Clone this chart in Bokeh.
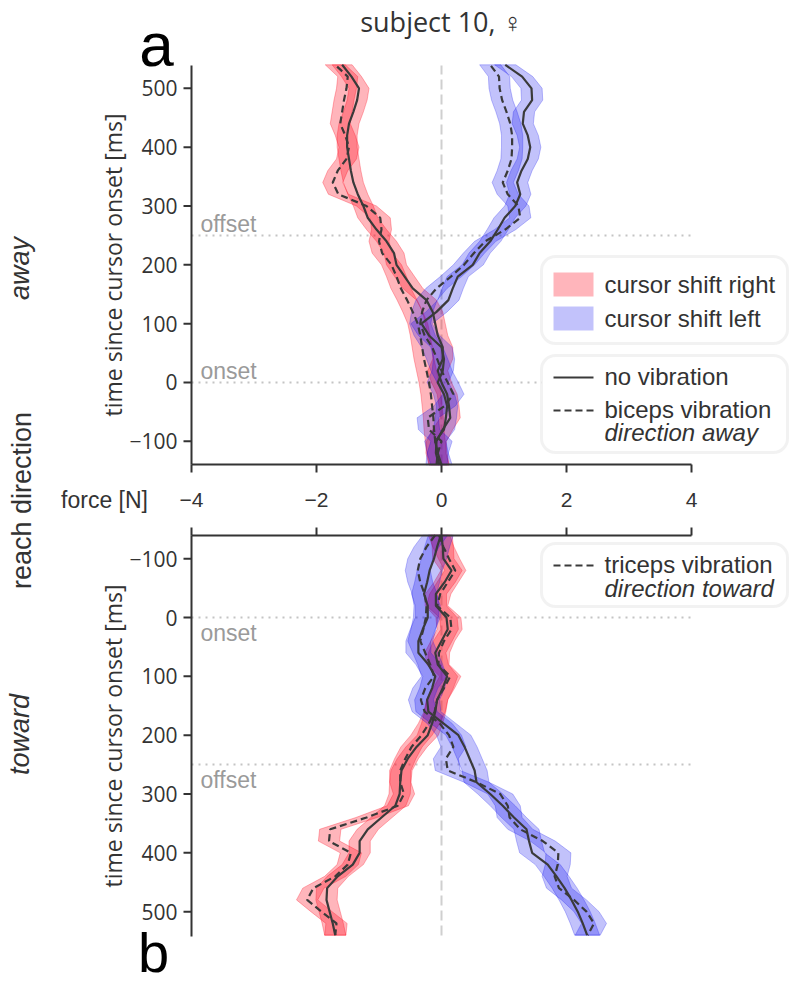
import numpy as np
from bokeh.core.properties import value
from bokeh.embed import file_html
from bokeh.models import Arrow, BoxAnnotation, Label, Range1d
from bokeh.plotting import figure
from bokeh.resources import INLINE

# ---------------------------------------------------------------- data
# time since cursor onset [ms], shared by every trace
time_ms = list(range(-140, 541, 20))

# mean force [N], reach direction "away" (biceps vibration)
away_right_novib = [-0.04, -0.09, -0.08, 0.02, 0.14, 0.12, 0.09, 0.00, -0.06, 0.02,
                    0.02, -0.06, -0.10, -0.14, -0.24, -0.46, -0.59, -0.72, -0.76, -0.88,
                    -1.04, -1.18, -1.25, -1.34, -1.41, -1.45, -1.48, -1.51, -1.51, -1.48,
                    -1.41, -1.35, -1.32, -1.44, -1.59]
away_right_vib = [-0.04, -0.07, -0.10, -0.12, -0.13, -0.15, -0.17, -0.20, -0.24, -0.28,
                  -0.31, -0.34, -0.38, -0.46, -0.55, -0.65, -0.72, -0.80, -0.95, -1.00,
                  -0.96, -0.98, -1.20, -1.65, -1.74, -1.66, -1.52, -1.48, -1.54, -1.62,
                  -1.59, -1.56, -1.52, -1.50, -1.70]
away_left_novib = [0.00, -0.06, -0.10, 0.04, 0.07, 0.09, 0.04, -0.06, 0.02, 0.04,
                   0.00, -0.20, -0.32, -0.08, 0.11, 0.18, 0.26, 0.50, 0.61, 0.78,
                   0.90, 1.01, 1.18, 1.26, 1.21, 1.28, 1.38, 1.42, 1.38, 1.30,
                   1.32, 1.45, 1.44, 1.29, 1.02]
away_left_vib = [-0.08, -0.06, 0.00, -0.20, -0.22, 0.05, 0.19, 0.10, 0.00, -0.07,
                 -0.15, -0.27, -0.34, -0.31, -0.24, -0.08, 0.15, 0.36, 0.52, 0.70,
                 1.02, 1.26, 1.23, 1.06, 0.98, 1.06, 1.12, 1.13, 1.13, 1.10,
                 1.04, 0.97, 0.93, 0.92, 0.78]

# mean force [N], reach direction "toward" (triceps vibration)
toward_right_novib = [0.00, 0.02, 0.03, 0.16, 0.05, -0.09, -0.09, 0.08, 0.10, 0.00,
                      -0.10, -0.06, 0.09, 0.02, -0.07, -0.10, -0.15, -0.22, -0.40, -0.54,
                      -0.64, -0.66, -0.67, -0.74, -0.96, -1.18, -1.31, -1.31, -1.42, -1.66,
                      -1.83, -1.84, -1.79, -1.74, -1.70]
toward_right_vib = [-0.04, 0.03, 0.12, 0.22, 0.10, -0.02, -0.07, 0.14, 0.16, 0.04,
                    -0.04, -0.05, 0.14, 0.04, -0.07, -0.11, -0.20, -0.32, -0.48, -0.58,
                    -0.66, -0.66, -0.60, -0.70, -1.20, -1.78, -1.80, -1.45, -1.50, -1.70,
                    -2.05, -2.15, -1.92, -1.68, -1.70]
toward_left_novib = [-0.01, -0.07, -0.12, -0.19, -0.23, -0.28, -0.22, -0.22, -0.30, -0.37,
                     -0.37, -0.21, -0.10, -0.15, -0.23, -0.21, 0.03, 0.27, 0.37, 0.45,
                     0.53, 0.56, 0.78, 0.98, 1.16, 1.36, 1.40, 1.45, 1.70, 1.84,
                     1.97, 2.08, 2.18, 2.26, 2.33]
toward_left_vib = [-0.10, -0.24, -0.34, -0.38, -0.34, -0.27, -0.24, -0.25, -0.29, -0.34,
                   -0.26, -0.18, -0.12, -0.26, -0.33, -0.27, -0.03, 0.12, 0.19, 0.07,
                   0.10, 0.56, 0.94, 1.06, 1.09, 1.26, 1.62, 1.87, 1.86, 1.81,
                   1.88, 2.12, 2.32, 2.44, 2.34]

# half width of the shaded error bands [N]
away_right_band = 0.16
away_left_band = 0.17
toward_right_band = 0.17
toward_left_band = 0.20

force_ticks = [-4, -2, 0, 2, 4]
time_ticks = [-100, 0, 100, 200, 300, 400, 500]
onset_ms = 0
offset_ms = 250

# ---------------------------------------------------------------- styling
RED = "#ff0a1e"
BLUE = "#0000ee"
RED_ALPHA = 0.30
BLUE_ALPHA = 0.24
TRACE = "#3a3a3a"
DASH = "7 4"
INK = "#333333"
EVENT = "#9a9a9a"
SANS = "Liberation Sans"
AXFONT = "Open Sans"
LEG_FONT = 24

# ---------------------------------------------------------------- geometry (px)
W, H = 789, 986
AXIS_X = 191                      # page x of the time axes (force = -4)
PX_PER_N = 62.5
PX_PER_MS = 0.5883
T_EDGE = -139.4                   # time at the panel edge next to the force axis
AWAY_EDGE_Y, AWAY_TOP_Y = 464, 65  # page y of the upper panel's force axis / far edge
TOWARD_EDGE_Y, TOWARD_BOT_Y = 535, 936
TICK_LEN = 8

AWAY_T_END = T_EDGE + (AWAY_EDGE_Y - AWAY_TOP_Y) / PX_PER_MS
TOWARD_T_END = T_EDGE + (TOWARD_BOT_Y - TOWARD_EDGE_Y) / PX_PER_MS
TICK_T = T_EDGE - TICK_LEN / PX_PER_MS   # tip of the force-axis ticks, either panel


def fx(px):
    """page x -> force units"""
    return -4 + (px - AXIS_X) / PX_PER_N


def minus(v):
    return f"\u2212{abs(v)}" if v < 0 else f"{v}"


# one canvas; the default y range is page pixels (down), each panel has its own time range
p = figure(width=W, height=H, x_range=Range1d(fx(0), fx(W)), y_range=Range1d(H, 0),
           min_border=0, toolbar_location=None, output_backend="svg",
           x_axis_type=None, y_axis_type=None, outline_line_color=None,
           title_location=None, background_fill_color="white", border_fill_color="white")
p.extra_y_ranges = {
    "away": Range1d(T_EDGE - (H - AWAY_EDGE_Y) / PX_PER_MS, T_EDGE + AWAY_EDGE_Y / PX_PER_MS),
    "toward": Range1d(T_EDGE + (H - TOWARD_EDGE_Y) / PX_PER_MS,
                      T_EDGE - TOWARD_EDGE_Y / PX_PER_MS),
}


def label(x, y, text, size, color=INK, font=SANS, style="normal", align="left",
          baseline="middle", angle=0.0, y_range_name="default"):
    p.add_layout(Label(x=x, y=y, text=text, text_font=font, text_font_size=f"{size}px",
                       text_font_style=style, text_color=color, text_align=align,
                       text_baseline=baseline, angle=angle, y_range_name=y_range_name))


def draw_panel(name, t_end, traces, event_shift):
    t = np.array(time_ms, dtype=float)
    # zero-force reference and the two cursor events
    p.segment(x0=[0], y0=[T_EDGE], x1=[0], y1=[t_end], line_color="#cfcfcf",
              line_width=2, line_dash="10 5", level="underlay", y_range_name=name)
    p.segment(x0=[-4, -4], y0=[onset_ms, offset_ms], x1=[4, 4], y1=[onset_ms, offset_ms],
              line_color="#c4c4c4", line_width=2, line_dash="2 5", level="underlay",
              y_range_name=name)
    label(fx(200), offset_ms + event_shift, "offset", 23, color=EVENT, y_range_name=name)
    label(fx(200), onset_ms + event_shift, "onset", 23, color=EVENT, y_range_name=name)

    # error bands, then the mean traces
    for mean, half, color, alpha, _ in traces:
        f = np.array(mean, dtype=float)
        p.patch(np.concatenate([f - half, (f + half)[::-1]]), np.concatenate([t, t[::-1]]),
                fill_color=color, fill_alpha=alpha, line_color=color, line_alpha=alpha,
                line_width=1, y_range_name=name)
    for mean, _, _, _, dash in traces:
        p.line(np.array(mean, dtype=float), t, line_color=TRACE, line_width=2.2,
               line_dash=dash, y_range_name=name)

    # time axis: spine, outward ticks, tick labels
    tick_x = fx(AXIS_X - TICK_LEN)
    p.segment(x0=[-4], y0=[T_EDGE], x1=[-4], y1=[t_end], line_color=INK, line_width=2,
              y_range_name=name)
    p.segment(x0=[tick_x] * len(time_ticks), y0=time_ticks, x1=[-4] * len(time_ticks),
              y1=time_ticks, line_color=INK, line_width=2, y_range_name=name)
    p.text(x=[fx(AXIS_X - 14)] * len(time_ticks), y=time_ticks,
           text=[minus(v) for v in time_ticks], text_align="right", text_baseline="middle",
           text_color=INK, text_font=value(AXFONT), text_font_size="21px",
           y_range_name=name)
    # force axis spine on the edge shared with the other panel, ticks pointing at it
    p.segment(x0=[-4], y0=[T_EDGE], x1=[4], y1=[T_EDGE], line_color=INK, line_width=2,
              y_range_name=name)
    p.segment(x0=force_ticks, y0=[T_EDGE] * len(force_ticks), x1=force_ticks,
              y1=[TICK_T] * len(force_ticks), line_color=INK, line_width=2,
              y_range_name=name)


def legend_box(left, right, top, bottom):
    p.add_layout(BoxAnnotation(left=fx(left), right=fx(right), top=top, bottom=bottom,
                               fill_color="white", fill_alpha=1.0,
                               line_color="#d4d4d4", line_width=3, border_radius=14))


def legend_patch(top, bottom, color, alpha):
    p.add_layout(BoxAnnotation(left=fx(553), right=fx(593), top=top, bottom=bottom,
                               fill_color=color, fill_alpha=alpha, line_color=None))


def legend_line(y, dash):
    p.add_layout(Arrow(start=None, end=None, x_start=fx(553), x_end=fx(593),
                       y_start=y, y_end=y, line_color=TRACE, line_width=2.2,
                       line_dash=dash))


# ---------------------------------------------------------------- upper panel: away
draw_panel("away", AWAY_T_END, [
    (away_right_novib, away_right_band, RED, RED_ALPHA, "solid"),
    (away_right_vib, away_right_band, RED, RED_ALPHA, DASH),
    (away_left_novib, away_left_band, BLUE, BLUE_ALPHA, "solid"),
    (away_left_vib, away_left_band, BLUE, BLUE_ALPHA, DASH),
], event_shift=19)

# ---------------------------------------------------------------- lower panel: toward
draw_panel("toward", TOWARD_T_END, [
    (toward_right_novib, toward_right_band, RED, RED_ALPHA, "solid"),
    (toward_right_vib, toward_right_band, RED, RED_ALPHA, DASH),
    (toward_left_novib, toward_left_band, BLUE, BLUE_ALPHA, "solid"),
    (toward_left_vib, toward_left_band, BLUE, BLUE_ALPHA, DASH),
], event_shift=26)

# shared force tick labels between the panels
p.text(x=force_ticks, y=[499] * len(force_ticks), text=[minus(v) for v in force_ticks],
       text_align="center", text_baseline="middle", text_color=INK,
       text_font=value(SANS), text_font_size="21px")
label(fx(104), 499, "force [N]", 23, align="center")

# axis titles
label(fx(112), (AWAY_TOP_Y + AWAY_EDGE_Y) / 2, "time since cursor onset [ms]", 23,
      font=AXFONT, align="center", angle=np.pi / 2)
label(fx(112), (TOWARD_EDGE_Y + TOWARD_BOT_Y) / 2, "time since cursor onset [ms]", 23,
      font=AXFONT, align="center", angle=np.pi / 2)
label(fx(19), 268, "away", 27, style="italic", align="center", angle=np.pi / 2)
label(fx(21), 500, "reach direction", 27, align="center", angle=np.pi / 2)
label(fx(19), 734, "toward", 27, style="italic", align="center", angle=np.pi / 2)

# title and panel letters
label(0, 21, "subject 10, \u2640", 27, font=AXFONT, align="center")
label(fx(156), 44, "a", 62, color="black", align="center")
label(fx(153), 952, "b", 56, color="black", align="center")

# ---------------------------------------------------------------- legends
legend_box(541, 787, 256, 343)
legend_patch(272, 296, RED, RED_ALPHA)
legend_patch(306, 330, BLUE, BLUE_ALPHA)
label(fx(604), 284, "cursor shift right", LEG_FONT)
label(fx(604), 318, "cursor shift left", LEG_FONT)

legend_box(541, 787, 355, 452)
legend_line(377, "solid")
legend_line(410, DASH)
label(fx(604), 376, "no vibration", LEG_FONT)
label(fx(604), 409, "biceps vibration", LEG_FONT)
label(fx(604), 432, "direction away", LEG_FONT, style="italic")

legend_box(541, 787, 543, 606)
legend_line(565, DASH)
label(fx(604), 564, "triceps vibration", LEG_FONT)
label(fx(604), 588, "direction toward", LEG_FONT, style="italic")

open("out.html", "w").write(file_html(p, INLINE))
